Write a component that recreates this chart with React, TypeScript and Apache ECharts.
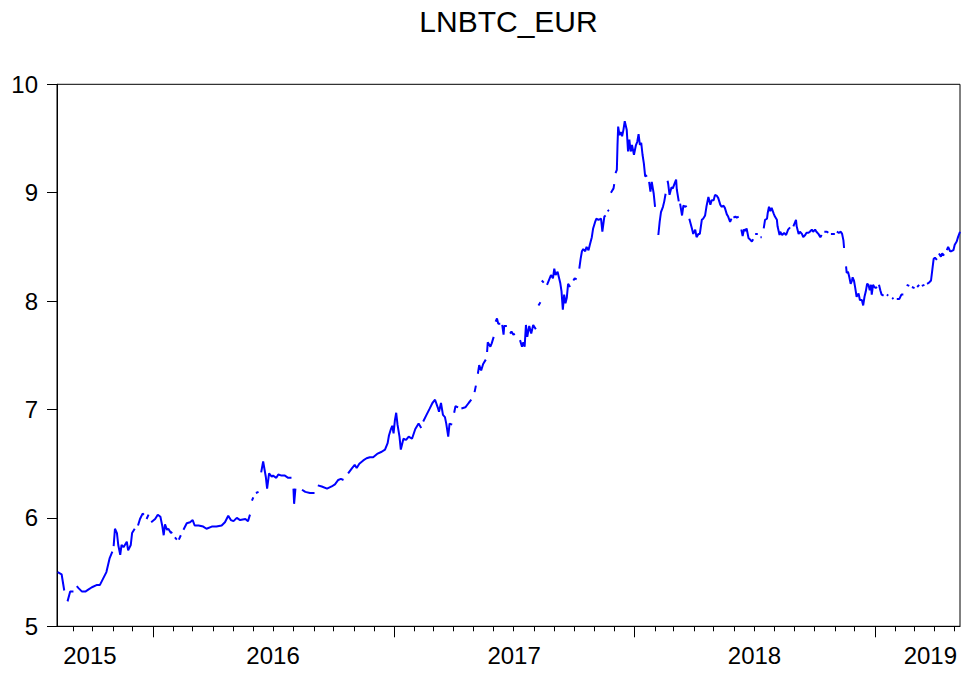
import React, { useEffect, useRef } from 'react';
import * as echarts from 'echarts';

const TITLE = 'LNBTC_EUR';
// Observations: [days since SAMPLE_START, ln(BTC/EUR)]; null = missing observation
const SAMPLE_START = '2015-08-08';
const SAMPLE_LAST_DAY = 1371;

const obs2015: [number, number | null][] = [
  [1, 5.5], [7, 5.48], [11, 5.33], [13, null], [16, 5.23], [20, 5.32], [25, 5.32], [27, null],
  [30, 5.37], [33, 5.35], [38, 5.32], [43, 5.32], [48, 5.34], [53, 5.36], [60, 5.38], [65, 5.38],
  [70, 5.44], [75, 5.5], [80, 5.63], [84, 5.69], [85, null], [86, 5.74], [88, 5.9], [91, 5.86],
  [93, 5.75], [96, 5.66], [98, 5.75], [101, 5.73], [106, 5.78], [108, 5.7], [112, 5.75], [114, 5.86],
  [118, 5.9], [120, null], [123, 5.93], [126, 5.99], [130, 6.04], [132, 6.03], [134, null],
  [136, 5.99], [139, 6.03], [141, null], [143, 5.96],
];

const obs2016: [number, number | null][] = [
  [149, 5.99], [153, 6.03], [157, 6.01], [160, 5.92], [162, 5.84], [164, 5.94], [167, 5.89],
  [169, 5.9], [173, 5.86], [175, 5.87], [177, null], [179, 5.82], [182, 5.8], [183, null],
  [185, 5.8], [188, 5.84], [190, null], [192, 5.89], [197, 5.95], [202, 5.96], [206, 5.98],
  [209, 5.93], [215, 5.93], [222, 5.92], [227, 5.9], [235, 5.92], [242, 5.92], [250, 5.93],
  [255, 5.96], [260, 6.02], [264, 5.98], [268, 5.97], [273, 6.0], [278, 5.98], [286, 5.99],
  [290, 5.97], [293, 6.03], [294, null], [296, 6.16], [298, 6.19], [300, null], [302, 6.23],
  [306, 6.24], [308, null], [310, 6.42], [313, 6.52], [317, 6.38], [319, 6.27], [322, 6.41],
  [326, 6.38], [328, 6.39], [333, 6.37], [336, 6.4], [341, 6.39], [346, 6.39], [351, 6.37],
  [356, 6.37], [357, null], [359, 6.27], [360, 6.13], [362, 6.27], [367, null], [372, 6.26],
  [377, 6.24], [384, 6.23], [391, 6.23], [393, null], [396, 6.3], [402, 6.29], [410, 6.27],
  [417, 6.29], [422, 6.31], [427, 6.35], [431, 6.36], [435, 6.35], [438, null], [442, 6.41],
  [448, 6.46], [452, 6.49], [455, 6.46], [459, 6.5], [465, 6.53], [470, 6.55], [475, 6.56],
  [480, 6.56], [486, 6.59], [493, 6.61], [498, 6.63], [502, 6.69], [504, 6.76], [507, 6.82],
  [509, 6.85], [511, 6.78],
];

const obs2017: [number, number | null][] = [
  [513, 6.9], [515, 6.97], [517, 6.86], [520, 6.75], [522, 6.63], [526, 6.73], [530, 6.72],
  [534, 6.75], [539, 6.73], [544, 6.82], [549, 6.87], [553, 6.83], [554, null], [556, 6.89],
  [561, 6.95], [566, 7.01], [570, 7.06], [574, 7.09], [578, 7.02], [580, 6.98], [583, 7.06],
  [586, 6.95], [589, 6.93], [591, 6.87], [594, 6.75], [596, 6.87], [600, 6.86], [601, null],
  [603, 6.97], [605, 7.03], [609, 7.02], [611, null], [614, 7.01], [620, 7.02], [625, 7.06],
  [629, 7.09], [631, null], [634, 7.16], [636, 7.22], [637, null], [639, 7.33], [641, 7.41],
  [644, 7.36], [647, 7.42], [651, 7.46], [652, null], [653, 7.53], [654, 7.62], [658, 7.58],
  [660, 7.61], [663, 7.67], [664, null], [666, 7.81], [668, 7.84], [670, 7.79], [673, 7.79],
  [674, null], [676, 7.78], [678, 7.69], [679, 7.77], [683, 7.77], [685, null], [688, 7.7],
  [690, 7.72], [693, 7.69], [695, 7.7], [699, null], [703, 7.64], [706, 7.58], [708, 7.62],
  [710, 7.58], [712, 7.78], [714, 7.67], [717, 7.77], [720, 7.7], [723, 7.78], [727, 7.74],
  [729, null], [731, 7.96], [734, 7.99], [735, null], [736, 8.19], [739, 8.17], [741, null],
  [744, 8.15], [746, 8.18], [750, 8.24], [753, 8.21], [755, 8.3], [757, 8.24], [760, 8.27],
  [762, 8.22], [764, 8.17], [766, 8.09], [768, 7.92], [770, 8.06], [772, 7.98], [774, 8.03],
  [776, 8.16], [779, 8.13], [781, null], [784, 8.19], [786, 8.21], [789, 8.2], [791, null],
  [793, 8.3], [795, 8.39], [797, 8.46], [799, 8.48], [802, 8.46], [804, 8.5], [807, 8.47],
  [809, 8.52], [812, 8.59], [814, 8.67], [817, 8.73], [819, 8.76], [822, 8.75], [826, 8.76],
  [828, 8.64], [831, 8.78], [833, 8.79], [834, null], [836, 8.84], [838, 8.83], [839, null],
  [841, 9.0], [845, 9.04], [846, 9.08], [847, null], [848, 9.18], [850, 9.21], [851, 9.44],
  [852, 9.61], [854, 9.53], [856, 9.56], [858, 9.52], [860, 9.58], [862, 9.66], [865, 9.58],
  [867, 9.38], [869, 9.49], [871, 9.38], [873, 9.44], [876, 9.35],
];

const obs2018: [number, number | null][] = [
  [879, 9.44], [881, 9.47], [883, 9.54], [885, 9.44], [887, 9.46], [889, 9.35], [891, 9.27],
  [893, 9.15], [896, 9.16], [897, null], [899, 9.1], [901, 9.01], [903, 9.1], [906, 8.99],
  [908, 8.87], [910, null], [913, 8.61], [915, 8.73], [917, 8.82], [920, 8.87], [922, 8.92],
  [924, 8.99], [925, null], [927, 9.11], [928, 9.08], [930, 8.98], [933, 9.05], [935, 9.04],
  [938, 9.09], [940, 9.12], [941, 9.03], [944, 8.92], [945, null], [946, 8.9], [949, 8.79],
  [951, 8.88], [954, 8.87], [956, 8.88], [958, null], [960, 8.76], [964, 8.67], [966, 8.62],
  [969, 8.66], [971, 8.59], [974, 8.62], [976, 8.62], [979, 8.75], [981, 8.76], [984, 8.79],
  [986, 8.87], [989, 8.96], [992, 8.89], [994, 8.93], [997, 8.93], [999, 8.98], [1002, 8.97],
  [1004, 8.95], [1007, 8.89], [1009, 8.87], [1012, 8.88], [1014, 8.86], [1017, 8.8],
  [1019, 8.78], [1022, 8.73], [1024, 8.76], [1025, null], [1027, 8.77], [1030, 8.78],
  [1032, 8.77], [1035, 8.78], [1037, null], [1039, 8.66], [1041, 8.6], [1043, 8.66],
  [1045, 8.65], [1047, 8.67], [1050, 8.58], [1052, 8.57], [1055, 8.55], [1057, 8.57],
  [1058, null], [1060, 8.62], [1064, 8.62], [1066, null], [1068, 8.59], [1070, 8.59],
  [1071, null], [1073, 8.67], [1075, 8.75], [1078, 8.76], [1079, 8.81], [1081, 8.87],
  [1083, 8.83], [1085, 8.86], [1088, 8.81], [1090, 8.78], [1093, 8.75], [1094, 8.69],
  [1097, 8.61], [1098, 8.64], [1101, 8.61], [1104, 8.63], [1107, 8.61], [1110, 8.66],
  [1113, 8.68], [1115, null], [1118, 8.69], [1122, 8.75], [1123, 8.69], [1126, 8.62],
  [1128, 8.64], [1131, 8.62], [1133, 8.59], [1136, 8.61], [1138, 8.63], [1141, 8.63],
  [1143, 8.64], [1146, 8.66], [1148, 8.64], [1151, 8.66], [1153, 8.64], [1156, 8.62],
  [1159, 8.59], [1161, 8.61], [1163, null], [1165, 8.64], [1169, 8.64], [1171, 8.63],
  [1173, null], [1175, 8.62], [1179, 8.62], [1181, 8.62], [1182, null], [1184, 8.64],
  [1187, 8.63], [1190, 8.64], [1192, 8.62], [1194, 8.56], [1195, 8.49], [1196, null],
  [1198, 8.32], [1199, 8.26], [1201, 8.27], [1203, 8.22], [1205, 8.16], [1207, 8.19],
  [1208, 8.22], [1210, 8.19], [1212, 8.12], [1214, 8.04], [1217, 8.07], [1219, 8.01],
  [1222, 8.01], [1224, 7.96], [1226, 8.04], [1228, 8.09], [1230, 8.16], [1232, 8.15],
  [1234, 8.1], [1236, 8.15], [1237, 8.06], [1239, 8.15], [1241, 8.13],
];

const obs2019: [number, number | null][] = [
  [1243, 8.12], [1245, 8.13], [1246, null], [1248, 8.15], [1250, 8.1], [1252, 8.06],
  [1255, 8.05], [1257, null], [1260, 8.06], [1262, 8.05], [1265, null], [1268, 8.03],
  [1270, 8.02], [1272, null], [1275, 8.02], [1279, 8.02], [1282, 8.06], [1285, 8.06],
  [1287, null], [1290, 8.15], [1294, 8.14], [1296, null], [1298, 8.13], [1302, 8.12],
  [1304, null], [1306, 8.13], [1309, 8.15], [1311, null], [1313, 8.14], [1317, 8.15],
  [1319, null], [1321, 8.16], [1324, 8.17], [1327, 8.19], [1329, 8.29], [1331, 8.39],
  [1333, 8.4], [1336, 8.38], [1337, null], [1339, 8.44], [1342, 8.41], [1344, 8.44],
  [1347, 8.42], [1349, null], [1351, 8.47], [1353, 8.5], [1356, 8.46], [1358, 8.46],
  [1361, 8.47], [1363, 8.52], [1366, 8.55], [1368, 8.59], [1371, 8.64],
];

const Y_MIN = 5;
const Y_MAX = 10;
const Y_STEP = 1;
const yearLabels = ['2015', '2016', '2017', '2018', '2019'];
const yearLabelDates = ['2015-09-27', '2016-07-01', '2017-07-02', '2018-07-02', '2019-03-26'];

const DAY_MS = 86400000;
const FONT = "'Liberation Sans', Arial, Helvetica, sans-serif";

export default function App() {
  const ref = useRef<HTMLDivElement>(null);
  useEffect(() => {
    if (!ref.current) return;
    const chart = echarts.init(ref.current, null, { renderer: 'svg' });
    const start = Date.parse(SAMPLE_START);
    const end = start + SAMPLE_LAST_DAY * DAY_MS;
    const all = [...obs2015, ...obs2016, ...obs2017, ...obs2018, ...obs2019];
    const data = all.map(([d, v]) => [start + d * DAY_MS, v == null ? '-' : v]);

    const monthStarts: number[] = [];
    const yearStarts: number[] = [];
    for (let y = 2015; y <= 2019; y++) {
      for (let m = 0; m < 12; m++) {
        const t = Date.UTC(y, m, 1);
        if (t >= start && t <= end) {
          monthStarts.push(t);
          if (m === 0) yearStarts.push(t);
        }
      }
    }
    const labelTimes = yearLabelDates.map((s) => Date.parse(s));
    const fmtYear = (v: number) => {
      let best = 0;
      for (let i = 1; i < labelTimes.length; i++) {
        if (Math.abs(labelTimes[i] - v) < Math.abs(labelTimes[best] - v)) best = i;
      }
      return yearLabels[best];
    };

    const option: any = {
      animation: false,
      backgroundColor: '#ffffff',
      textStyle: { fontFamily: FONT },
      graphic: [
        {
          type: 'text',
          x: 508.5,
          y: 21,
          style: {
            text: TITLE,
            fontFamily: FONT,
            fontSize: 30,
            fill: '#000',
            align: 'center',
            verticalAlign: 'middle',
          },
        },
      ],
      grid: {
        left: 57,
        right: 5,
        top: 84.3,
        bottom: 48.7,
        show: true,
        borderColor: '#000',
        borderWidth: 1,
        backgroundColor: 'transparent',
        outerBoundsMode: 'none',
      },
      xAxis: [
        {
          type: 'value',
          min: start,
          max: end,
          position: 'bottom',
          axisLine: { show: true, lineStyle: { color: '#000', width: 1 } },
          axisTick: { show: true, customValues: monthStarts, length: 5, lineStyle: { color: '#000', width: 1 } },
          axisLabel: {
            show: true,
            customValues: labelTimes,
            formatter: (v: number) => fmtYear(v),
            fontFamily: FONT,
            fontSize: 24,
            color: '#000',
            margin: 17,
            hideOverlap: false,
            showMinLabel: true,
            showMaxLabel: true,
          },
          splitLine: { show: false },
        },
        {
          type: 'value',
          min: start,
          max: end,
          position: 'bottom',
          axisLine: { show: false },
          axisTick: { show: true, customValues: yearStarts, length: 11, lineStyle: { color: '#000', width: 1 } },
          axisLabel: { show: false },
          splitLine: { show: false },
        },
      ],
      yAxis: {
        type: 'value',
        min: Y_MIN,
        max: Y_MAX,
        interval: Y_STEP,
        axisLine: { show: true, lineStyle: { color: '#000', width: 1 } },
        axisTick: { show: true, length: 10, lineStyle: { color: '#000', width: 1 } },
        axisLabel: { fontFamily: FONT, fontSize: 24, color: '#000', margin: 19 },
        splitLine: { show: false },
      },
      series: [
        {
          type: 'line',
          xAxisIndex: 0,
          data,
          symbol: 'none',
          showSymbol: false,
          connectNulls: false,
          lineStyle: { color: '#0000ff', width: 2 },
          itemStyle: { color: '#0000ff' },
        },
      ],
    };
    chart.setOption(option);
    return () => chart.dispose();
  }, []);
  return (
    <div
      ref={ref}
      style={{ position: 'absolute', left: 0, top: 0, width: 965, height: 675 }}
    />
  );
}
